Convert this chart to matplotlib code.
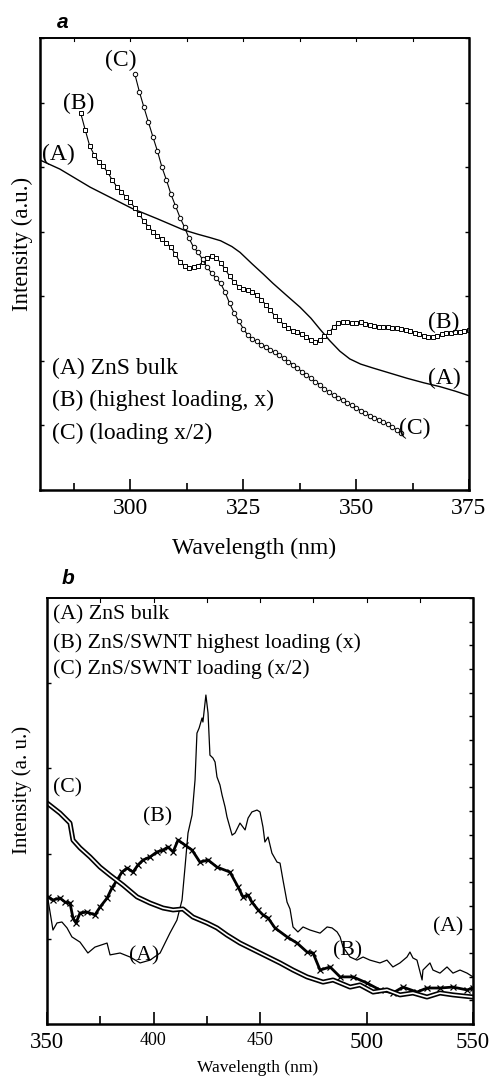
import matplotlib
matplotlib.use("Agg")
import matplotlib.pyplot as plt
import matplotlib.patheffects as pe
from matplotlib.ticker import MultipleLocator, FixedLocator

plt.rcParams['font.family'] = ['Liberation Serif', 'DejaVu Serif']

# ---- panel a data (absorption) ----
a_A_x = [280, 284.4, 291.1, 300.4, 306.0, 311.7, 315.0, 317.6, 320.0, 322.5,
         324.3, 327.0, 329.5, 331.6, 334.5, 337.6, 340.0, 342.0, 344.2, 346.4,
         348.6, 351.0, 353.7, 357.5, 361.3, 365.0, 368.6, 372.0, 375.0]
a_A_y = [5.11, 4.97, 4.69, 4.36, 4.20, 4.03, 3.96, 3.91, 3.86, 3.77,
         3.68, 3.50, 3.34, 3.20, 3.02, 2.83, 2.66, 2.49, 2.31, 2.15,
         2.03, 1.95, 1.89, 1.81, 1.73, 1.66, 1.60, 1.53, 1.46]

a_B_x = list(range(289, 376))
a_B_y = [5.84, 5.58, 5.33, 5.19, 5.08, 5.01, 4.92, 4.80, 4.70, 4.62,
         4.54, 4.46, 4.37, 4.27, 4.16, 4.08, 4.00, 3.94, 3.88, 3.82,
         3.76, 3.65, 3.53, 3.47, 3.44, 3.45, 3.47, 3.53, 3.60, 3.62,
         3.60, 3.52, 3.42, 3.31, 3.22, 3.15, 3.12, 3.10, 3.07, 3.02,
         2.95, 2.87, 2.78, 2.70, 2.63, 2.56, 2.51, 2.47, 2.44, 2.41,
         2.37, 2.32, 2.29, 2.33, 2.38, 2.44, 2.52, 2.58, 2.60, 2.60,
         2.59, 2.59, 2.60, 2.57, 2.55, 2.54, 2.53, 2.53, 2.52, 2.51,
         2.51, 2.50, 2.48, 2.46, 2.43, 2.41, 2.39, 2.37, 2.37, 2.39,
         2.41, 2.43, 2.43, 2.44, 2.45, 2.46, 2.48]

a_C_x = list(range(301, 361))
a_C_y = [6.44, 6.17, 5.93, 5.70, 5.47, 5.25, 5.00, 4.80, 4.58, 4.40,
         4.22, 4.07, 3.90, 3.76, 3.68, 3.57, 3.45, 3.36, 3.28, 3.20,
         3.06, 2.89, 2.74, 2.62, 2.50, 2.40, 2.34, 2.30, 2.25, 2.22,
         2.17, 2.13, 2.09, 2.04, 1.99, 1.94, 1.89, 1.83, 1.78, 1.73,
         1.68, 1.63, 1.57, 1.51, 1.47, 1.43, 1.39, 1.35, 1.31, 1.27,
         1.23, 1.19, 1.15, 1.12, 1.09, 1.06, 1.02, 0.98, 0.93, 0.88]

# ---- panel b data (emission) ----
b_A_x = [350.5, 352.8, 354.7, 357.0, 359.4, 361.7, 365.5, 369.2, 372.5, 378.2,
         379.6, 384.3, 389.0, 393.7, 398.4, 403.1, 407.7, 411.0, 413.4, 414.8,
         416.2, 418.1, 419.5, 420.4, 421.4, 422.8, 423.2, 424.6, 425.6, 426.5,
         427.9, 428.9, 429.8, 431.2, 432.2, 433.6, 434.5, 436.9, 438.3, 440.6,
         443.0, 444.4, 446.2, 448.6, 450.0, 451.4, 452.3, 453.8, 455.6, 458.0,
         459.4, 460.8, 462.7, 464.1, 465.5, 467.8, 470.2, 473.5, 478.2, 481.5,
         483.8, 486.2, 487.6, 489.0, 492.3, 495.5, 498.4, 501.6, 506.3, 509.6,
         512.4, 515.7, 519.0, 520.4, 521.8, 523.7, 526.1, 526.5, 529.8, 531.2,
         534.5, 537.8, 540.6, 543.9, 547.2, 550.0]
b_A_y = [5.24, 3.97, 4.27, 4.31, 4.06, 3.68, 3.46, 3.00, 3.25, 3.42,
         2.92, 3.00, 2.83, 2.58, 2.70, 3.00, 3.84, 4.39, 5.24, 6.63,
         8.07, 8.83, 10.31, 12.29, 12.50, 12.93, 12.76, 13.90, 13.14, 11.36,
         11.24, 11.07, 10.44, 10.10, 9.67, 9.17, 8.75, 7.98, 8.07, 8.49,
         8.20, 8.70, 8.96, 9.04, 8.96, 8.32, 7.69, 7.90, 7.22, 6.84,
         6.80, 6.08, 5.15, 4.86, 4.10, 3.89, 4.10, 3.97, 3.84, 4.10,
         4.06, 3.89, 3.68, 3.25, 2.83, 2.70, 2.83, 2.70, 2.58, 2.70,
         2.41, 2.58, 2.83, 3.04, 2.79, 2.70, 1.86, 2.28, 2.58, 2.28,
         2.15, 2.41, 2.15, 2.28, 2.15, 1.99]

b_B_x = [350.5, 352.8, 356.1, 358.5, 360.8, 362.2, 363.6, 365.5, 368.8, 372.5,
         374.9, 378.2, 380.5, 382.9, 385.2, 387.6, 390.4, 392.7, 395.1, 398.4,
         401.6, 404.5, 406.8, 409.2, 411.5, 414.8, 418.1, 421.8, 425.6, 429.8,
         435.9, 439.7, 442.0, 444.4, 446.2, 449.1, 451.4, 453.8, 457.0, 462.7,
         467.4, 472.1, 474.9, 478.2, 482.9, 487.6, 493.7, 500.2, 506.3, 512.4,
         517.1, 523.7, 528.4, 534.5, 540.6, 547.2, 550.0]
b_B_y = [5.37, 5.24, 5.32, 5.15, 5.11, 4.48, 4.27, 4.69, 4.73, 4.61,
         4.94, 5.32, 5.75, 6.08, 6.42, 6.59, 6.42, 6.72, 6.93, 7.06,
         7.27, 7.35, 7.48, 7.27, 7.77, 7.56, 7.35, 6.84, 6.93, 6.63,
         6.42, 5.79, 5.37, 5.45, 5.15, 4.82, 4.61, 4.48, 4.06, 3.68,
         3.42, 3.04, 3.00, 2.28, 2.41, 1.99, 1.99, 1.73, 1.44, 1.31,
         1.56, 1.35, 1.52, 1.52, 1.56, 1.44, 1.52]

b_C_x = [350.0, 356.1, 360.8, 362.2, 365.5, 370.2, 374.9, 379.6, 385.7, 392.3,
         398.4, 404.5, 409.2, 413.8, 418.5, 425.1, 429.8, 434.5, 440.6, 444.4,
         450.0, 459.4, 465.5, 472.1, 479.6, 484.3, 492.3, 496.9, 503.1, 509.6,
         515.7, 521.8, 528.4, 534.5, 540.6, 550.0]
b_C_y = [9.34, 8.91, 8.49, 7.77, 7.44, 7.06, 6.63, 6.29, 5.87, 5.37,
         5.11, 4.90, 4.82, 4.86, 4.52, 4.27, 4.06, 3.76, 3.42, 3.25,
         3.00, 2.58, 2.28, 1.99, 1.77, 1.86, 1.56, 1.65, 1.35, 1.44,
         1.23, 1.31, 1.14, 1.31, 1.23, 1.14]

W, H = 492, 1077
fig = plt.figure(figsize=(W / 100, H / 100), dpi=100)


def box(l, t, r, b):
    return [l / W, 1 - b / H, (r - l) / W, (b - t) / H]


# ================= panel a =================
ax = fig.add_axes(box(40, 38, 469, 490))
ax.plot(a_A_x, a_A_y, color='black', lw=1.0)
ax.plot(a_B_x, a_B_y, color='black', lw=0.8, marker='s', ms=3.2,
        mfc='white', mec='black', mew=0.7)
ax.plot(a_C_x, a_C_y, color='black', lw=0.8, marker='o', ms=3.2,
        mfc='white', mec='black', mew=0.7)
ax.set_xlim(280, 375)
ax.set_ylim(0, 7)
ax.xaxis.set_major_locator(FixedLocator([300, 325, 350, 375]))
ax.xaxis.set_minor_locator(FixedLocator([287.5, 312.5, 337.5, 362.5]))
ax.yaxis.set_major_locator(MultipleLocator(1))
ax.set_yticklabels([])
ax.tick_params(axis='x', which='major', direction='in', length=8, width=1.2,
               labelsize=17, pad=6, top=False)
ax.tick_params(axis='x', which='minor', direction='in', length=5, width=1.2, top=False)
ax.tick_params(axis='y', direction='in', length=3, width=1.0, left=True, right=True)
for x in [287.5, 300, 312.5, 325, 337.5, 350, 362.5]:
    ax.plot([x, x], [7, 6.96], color='black', lw=0.8, clip_on=False)
for s in ['left', 'bottom', 'right']:
    ax.spines[s].set_linewidth(1.8)
ax.spines['top'].set_linewidth(1.4)

fs_a = 17
ax.text(280.4, 5.19, '(A)', fontsize=fs_a, va='center', ha='left')
ax.text(285.1, 5.99, '(B)', fontsize=fs_a, va='center', ha='left')
ax.text(294.4, 6.66, '(C)', fontsize=fs_a, va='center', ha='left')
ax.text(365.9, 2.59, '(B)', fontsize=fs_a, va='center', ha='left')
ax.text(365.9, 1.72, '(A)', fontsize=fs_a, va='center', ha='left')
ax.text(359.5, 0.96, '(C)', fontsize=fs_a, va='center', ha='left')
ax.text(282.7, 1.89, '(A) ZnS bulk', fontsize=fs_a, va='center', ha='left')
ax.text(282.7, 1.39, '(B) (highest loading, x)', fontsize=fs_a, va='center', ha='left')
ax.text(282.7, 0.88, '(C) (loading x/2)', fontsize=fs_a, va='center', ha='left')

fig.text(254 / W, 1 - 548 / H, 'Wavelength (nm)', fontsize=17, ha='center', va='center')
fig.text(22 / W, 1 - 244 / H, 'Intensity (a.u.)', fontsize=16.5, ha='center',
         va='center', rotation=90)
fig.text(63 / W, 1 - 23 / H, 'a', fontsize=15, ha='center', va='center',
         family='Liberation Sans', weight='bold', style='italic')

# ================= panel b =================
bx = fig.add_axes(box(47, 598, 473, 1024))
bx.plot(b_A_x, b_A_y, color='black', lw=0.9)
bx.plot(b_B_x, b_B_y, color='black', lw=2.0, marker='x', ms=4, mew=0.9)
bx.plot(b_C_x, b_C_y, color='white', lw=1.2,
        path_effects=[pe.Stroke(linewidth=3.6, foreground='black'), pe.Normal()])
bx.set_xlim(350, 550)
bx.set_ylim(0, 18)
bx.xaxis.set_major_locator(MultipleLocator(50))
bx.xaxis.set_minor_locator(FixedLocator([375, 425]))
bx.yaxis.set_major_locator(FixedLocator([3.6, 7.2, 10.8, 14.4]))
bx.yaxis.set_minor_locator(MultipleLocator(1))
bx.set_yticklabels([])
bx.tick_params(axis='x', which='major', direction='in', length=9, width=1.2,
               labelsize=16.5, pad=6, top=False)
bx.tick_params(axis='x', which='minor', direction='in', length=6, width=1.2, top=False)
bx.tick_params(axis='y', which='major', direction='in', length=3, width=1.0,
               left=True, right=False)
bx.tick_params(axis='y', which='minor', direction='in', length=3, width=1.0,
               left=False, right=True)
for x in range(375, 550, 25):
    bx.plot([x, x], [18, 17.85], color='black', lw=0.8, clip_on=False)
for lab in bx.get_xticklabels():
    if lab.get_text() in ('400', '450'):
        lab.set_fontsize(13)
for s in ['left', 'bottom', 'right']:
    bx.spines[s].set_linewidth(1.8)
bx.spines['top'].set_linewidth(1.4)

fs_b = 15.7
bx.text(352.8, 9.97, '(C)', fontsize=fs_b, va='center', ha='left')
bx.text(402.1, 8.75, '(B)', fontsize=fs_b, va='center', ha='center')
bx.text(395.5, 2.9, '(A)', fontsize=fs_b, va='center', ha='center')
bx.text(491.3, 3.1, '(B)', fontsize=fs_b, va='center', ha='center')
bx.text(538.3, 4.1, '(A)', fontsize=fs_b, va='center', ha='center')
bx.text(352.8, 17.3, '(A) ZnS bulk', fontsize=fs_b, va='center', ha='left')
bx.text(352.8, 16.1, '(B) ZnS/SWNT highest loading (x)', fontsize=fs_b, va='center', ha='left')
bx.text(352.8, 15.0, '(C) ZnS/SWNT loading (x/2)', fontsize=fs_b, va='center', ha='left')

fig.text(258 / W, 1 - 1068 / H, 'Wavelength (nm)', fontsize=12.5, ha='center', va='center')
fig.text(22 / W, 1 - 790 / H, 'Intensity (a. u.)', fontsize=15, ha='center',
         va='center', rotation=90)
fig.text(68 / W, 1 - 579 / H, 'b', fontsize=15, ha='center', va='center',
         family='Liberation Sans', weight='bold', style='italic')

fig.savefig('out.png', dpi=100)
